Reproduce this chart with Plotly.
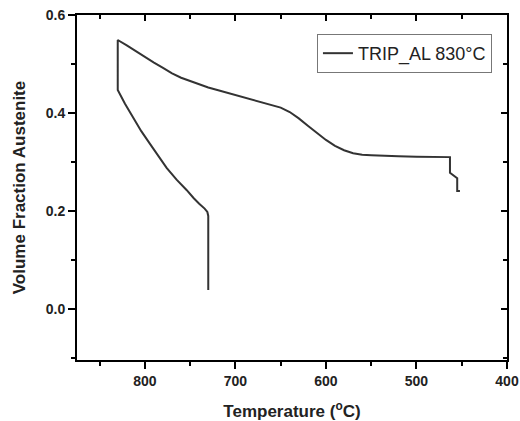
import plotly.graph_objects as go

# Temperature (°C) and volume fraction of austenite along the thermal path
temperature = [730, 730, 731, 734, 740, 746, 754, 765, 776, 785, 794, 804, 813, 822, 830,
               830, 820, 810, 800, 790, 780, 770, 760, 750, 740, 730, 720, 710, 700, 690, 680,
               670, 660, 650, 640, 630, 620, 610, 600, 590, 580, 570, 560, 550, 540, 520, 500,
               480, 463,
               463, 455, 455, 452]
fraction = [0.039, 0.190, 0.198, 0.205, 0.215, 0.226, 0.243, 0.264, 0.288, 0.311, 0.336, 0.363, 0.391, 0.419, 0.447,
            0.549, 0.538, 0.526, 0.515, 0.503, 0.492, 0.481, 0.472, 0.465, 0.458, 0.452, 0.447, 0.442, 0.437,
            0.432, 0.427, 0.422, 0.417, 0.411, 0.402, 0.389, 0.374, 0.359, 0.345, 0.333, 0.324, 0.318,
            0.315, 0.314, 0.313, 0.312, 0.311, 0.310, 0.310,
            0.278, 0.267, 0.241, 0.241]
series_name = "TRIP_AL 830°C"

x_ticks = [800, 700, 600, 500, 400]
y_ticks = [0.0, 0.2, 0.4, 0.6]

FONT = "Liberation Sans, Arial, sans-serif"
line_color = "#333333"

fig = go.Figure()
fig.add_trace(go.Scatter(x=temperature, y=fraction, mode="lines", name=series_name,
                         line=dict(color=line_color, width=2)))
# invisible copy to activate the mirrored (top/right) axes
fig.add_trace(go.Scatter(x=temperature, y=fraction, mode="lines", xaxis="x2", yaxis="y2",
                         line=dict(width=0), opacity=0, showlegend=False, hoverinfo="skip"))

axis_common = dict(showgrid=False, zeroline=False, showline=True, linecolor="black", linewidth=2,
                   automargin=False)

fig.update_layout(
    width=520, height=421,
    margin=dict(l=77, r=13, t=15, b=61),
    paper_bgcolor="white", plot_bgcolor="white",
    font=dict(family=FONT, color="#222222"),
    showlegend=True,
    legend=dict(x=0.965, y=0.945, xanchor="right", yanchor="top",
                bordercolor="#777777", borderwidth=1, bgcolor="white",
                font=dict(family=FONT, size=18, color="#222222"),
                itemwidth=30, tracegroupgap=0),
    xaxis=dict(range=[875, 400], tickvals=x_ticks, ticks="outside", ticklen=7, tickwidth=2,
               tickcolor="black",
               minor=dict(dtick=50, tick0=0, ticks="outside", ticklen=4, tickwidth=2, tickcolor="black"),
               tickfont=dict(family=FONT, size=14, weight="bold", color="#222222"),
               title=dict(text="Temperature (<sup>o</sup>C)", standoff=18,
                          font=dict(family=FONT, size=17, weight="bold", color="#222222")),
               **axis_common),
    yaxis=dict(range=[-0.104, 0.6], tickvals=y_ticks, tickformat=".1f", ticks="outside", ticklen=7,
               tickwidth=2, tickcolor="black",
               minor=dict(dtick=0.1, tick0=0, ticks="outside", ticklen=4, tickwidth=2, tickcolor="black"),
               tickfont=dict(family=FONT, size=14, weight="bold", color="#222222"),
               title=dict(text="Volume Fraction Austenite", standoff=16,
                          font=dict(family=FONT, size=17, weight="bold", color="#222222")),
               **axis_common),
    xaxis2=dict(range=[875, 400], overlaying="x", side="top", anchor="y2", tickvals=x_ticks,
                ticks="inside", ticklen=6, tickwidth=2, tickcolor="black", showticklabels=False,
                minor=dict(dtick=50, tick0=0, ticks="inside", ticklen=4, tickwidth=2, tickcolor="black"),
                **axis_common),
    yaxis2=dict(range=[-0.104, 0.6], overlaying="y", side="right", anchor="x2", tickvals=y_ticks,
                ticks="inside", ticklen=6, tickwidth=2, tickcolor="black", showticklabels=False,
                minor=dict(dtick=0.1, tick0=0, ticks="inside", ticklen=4, tickwidth=2, tickcolor="black"),
                **axis_common),
)

fig.write_html("out.html")
